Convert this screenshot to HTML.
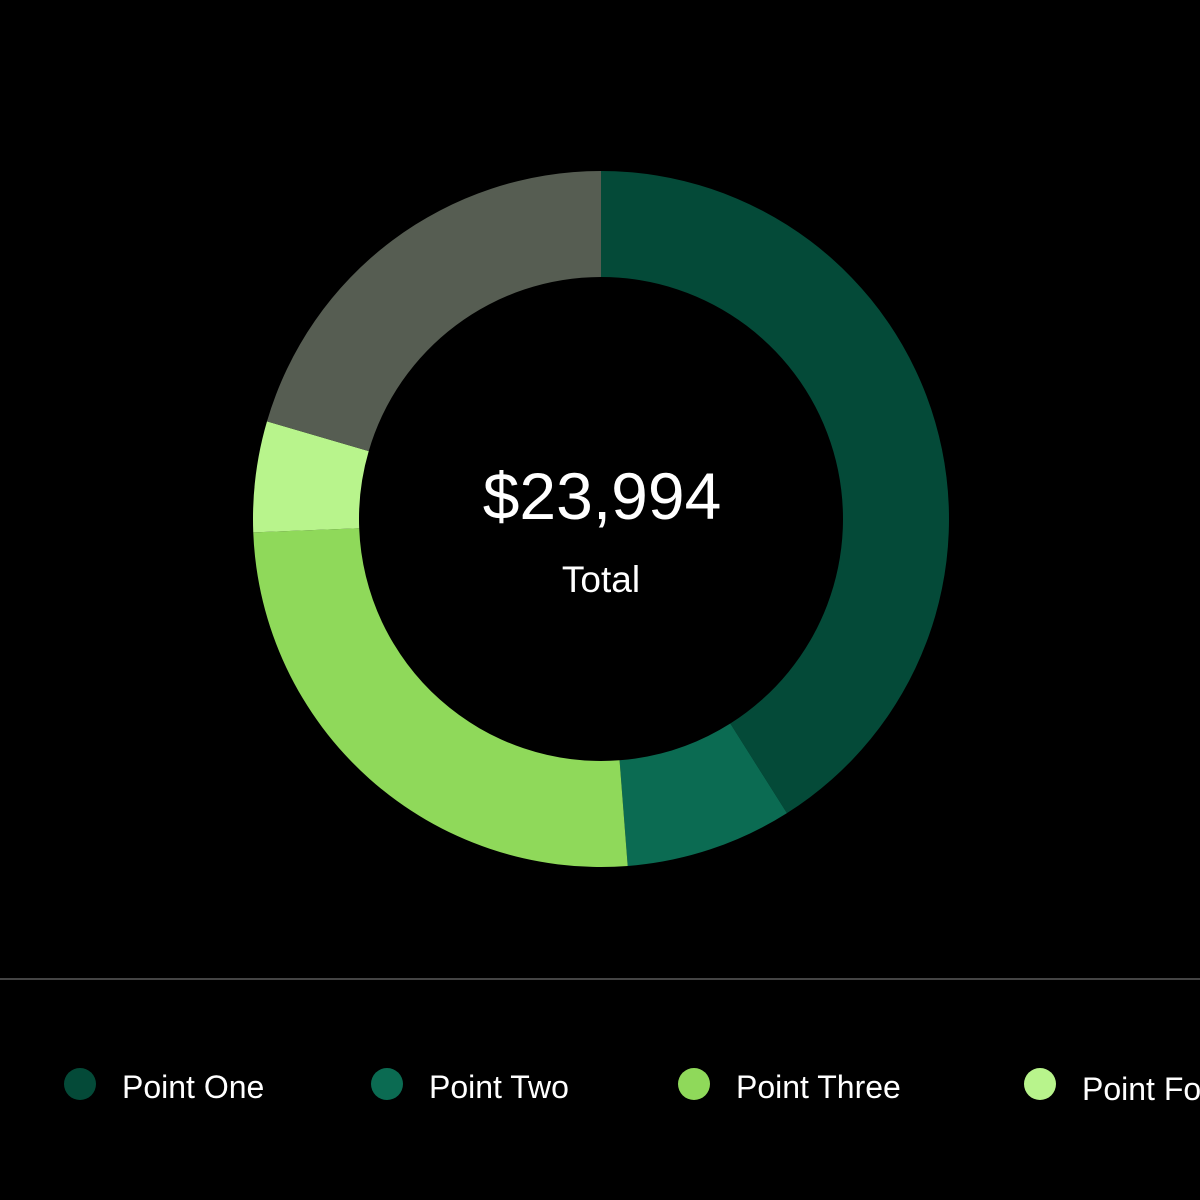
<!DOCTYPE html>
<html><head><meta charset="utf-8"><style>
html,body{margin:0;padding:0;background:#000;}
body{width:1200px;height:1200px;overflow:hidden;position:relative;font-family:"Liberation Sans",sans-serif;}
</style></head><body>
<svg width="1200" height="1200" viewBox="0 0 1200 1200" xmlns="http://www.w3.org/2000/svg" style="position:absolute;left:0;top:0">
<rect width="1200" height="1200" fill="#000"/>
<g id="d"></g>
<text x="602" y="519" text-anchor="middle" fill="#fff" font-family="Liberation Sans, sans-serif" font-size="66">$23,994</text>
<text x="601" y="592" text-anchor="middle" fill="#fff" font-family="Liberation Sans, sans-serif" font-size="37">Total</text>
<line x1="0" y1="979" x2="1200" y2="979" stroke="#444" stroke-width="2"/>
<circle cx="80" cy="1084" r="16" fill="#044a38"/>
<text x="122" y="1098" fill="#fff" font-size="32" font-family="Liberation Sans, sans-serif">Point One</text>
<circle cx="387" cy="1084" r="16" fill="#0b6b52"/>
<text x="429" y="1098" fill="#fff" font-size="32" font-family="Liberation Sans, sans-serif">Point Two</text>
<circle cx="694" cy="1084" r="16" fill="#8fd95a"/>
<text x="736" y="1098" fill="#fff" font-size="32" font-family="Liberation Sans, sans-serif">Point Three</text>
<circle cx="1040" cy="1084" r="16" fill="#b8f48c"/>
<text x="1082" y="1100" fill="#fff" font-size="32" font-family="Liberation Sans, sans-serif">Point Four</text>
</svg>
<script>
var cx=601,cy=519,R=348,r=242;
var segs=[[0,147.7,"#044a38"],[147.7,175.6,"#0b6b52"],[175.6,267.8,"#8fd95a"],[267.8,286.3,"#b8f48c"],[286.3,360,"#565d52"]];
function p(a,rad){var t=a*Math.PI/180;return [cx+rad*Math.sin(t),cy-rad*Math.cos(t)];}
var g=document.getElementById("d"),h="";
segs.forEach(function(s){var a=s[0],b=s[1],l=(b-a)>180?1:0;
var p1=p(a,R),p2=p(b,R),p3=p(b,r),p4=p(a,r);
h+='<path fill="'+s[2]+'" d="M'+p1+' A'+R+' '+R+' 0 '+l+' 1 '+p2+' L'+p3+' A'+r+' '+r+' 0 '+l+' 0 '+p4+' Z"/>';});
g.innerHTML=h;
</script>
</body></html>
